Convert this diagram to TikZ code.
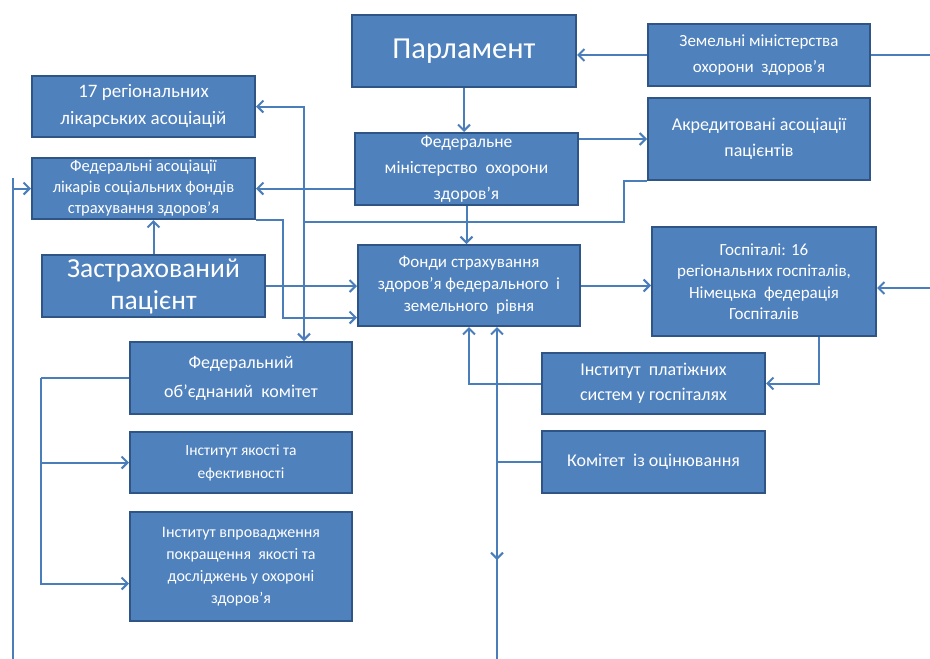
\documentclass[tikz,border=0pt]{standalone}
\usepackage{fontspec}
\setmainfont{Carlito}
\usetikzlibrary{arrows.meta,calc}
\definecolor{boxfill}{HTML}{4F81BD}
\definecolor{boxline}{HTML}{2F5486}
\definecolor{conn}{HTML}{4A7EBB}
\begin{document}
\begin{tikzpicture}[x=1pt,y=-1pt,
  box/.style={draw=boxline, fill=boxfill, line width=2pt, text=white, align=center, inner sep=1pt, anchor=center},
  arr/.style={draw=conn, line width=2pt, -{Straight Barb[length=6pt,width=12pt,line width=2pt]}},
  ln/.style={draw=conn, line width=2pt}]
\useasboundingbox (0,0) rectangle (930,659);
\fill[white] (0,0) rectangle (930,659);

\node[box, minimum width=224pt, minimum height=72pt, font=\fontsize{30.5}{34}\selectfont] (parl) at (464,51) {Парламент};
\node[box, minimum width=222pt, minimum height=62pt, font=\fontsize{17}{26}\selectfont] (zem) at (759,55) {Земельні міністерства\\охорони\ \ здоров’я};
\node[box, minimum width=223pt, minimum height=61pt, font=\fontsize{19}{27}\selectfont] (r17) at (143.5,106.5) {17 регіональних\\лікарських асоціацій};
\node[box, minimum width=223pt, minimum height=61pt, font=\fontsize{16.5}{21}\selectfont] (fedassoc) at (143.5,188.5) {Федеральні асоціації\\лікарів соціальних фондів\\страхування здоров’я};
\node[box, minimum width=223pt, minimum height=72pt, font=\fontsize{17.5}{26}\selectfont] (fedmin) at (466.5,169) {Федеральне\\міністерство\ \ охорони\\здоров’я};
\node[box, minimum width=222pt, minimum height=82pt, font=\fontsize{18}{26}\selectfont] (akr) at (759,139) {Акредитовані асоціації\\пацієнтів};
\node[box, minimum width=223pt, minimum height=62pt, font=\fontsize{27.5}{32}\selectfont] (zastr) at (153.5,286) {Застрахований\\пацієнт};
\node[box, minimum width=222pt, minimum height=81pt, font=\fontsize{17}{22}\selectfont] (fonds) at (469,285.5) {Фонди страхування\\здоров’я федерального\ \ і\\земельного\ \ рівня};
\node[box, minimum width=224pt, minimum height=109pt, font=\fontsize{17}{21.5}\selectfont] (hosp) at (764,281.5) {Госпіталі: 16\\регіональних госпіталів,\\Німецька\ \ федерація\\Госпіталів};
\node[box, minimum width=222pt, minimum height=72pt, font=\fontsize{18}{29}\selectfont] (fedcom) at (241,378) {Федеральний\\об’єднаний\ \ комітет};
\node[box, minimum width=223pt, minimum height=61pt, font=\fontsize{18}{25}\selectfont] (plat) at (653.5,383.5) {Інститут\ \ платіжних\\систем у госпіталях};
\node[box, minimum width=223pt, minimum height=62pt, font=\fontsize{18}{22}\selectfont] (komitet) at (653.5,462) {Комітет\ \ із оцінювання};
\node[box, minimum width=222pt, minimum height=61pt, font=\fontsize{15.5}{23}\selectfont] (yakist) at (241,462.5) {Інститут якості та\\ефективності};
\node[box, minimum width=222pt, minimum height=109pt, font=\fontsize{16}{22}\selectfont] (vprov) at (241,566.5) {Інститут впровадження\\покращення\ \ якості та\\досліджень у охороні\\здоров’я};

\draw[arr] (zem.west) -- (zem.west -| parl.east);
\coordinate (rz) at (930,55);
\draw[ln] (zem.east) -- (rz);
\draw[arr] (parl.south) -- (parl.south |- fedmin.north);
\draw[arr] (akr.west -| fedmin.east) -- (akr.west);
\draw[arr] (fedassoc.east -| fedmin.west) -- (fedassoc.east);
\draw[arr] (fedmin.south) -- (fedmin.south |- fonds.north);
\coordinate (j1) at (304,222);
\draw[ln] (akr.south west) -- ++(-23,0) |- (j1);
\draw[arr] (j1) |- (r17.east);
\draw[arr] (j1) -- (j1 |- fedcom.north);
\draw[arr] (fedassoc.south east) -- ++(27,0) |- ([yshift=-32pt]fonds.west);
\draw[arr] (zastr.east) -- (zastr.east -| fonds.west);
\draw[arr] (zastr.north) -- (zastr.north |- fedassoc.south);
\draw[arr] (fonds.east) -- (fonds.east -| hosp.west);
\coordinate (rh) at (930,288);
\draw[arr] (rh) -- (rh -| hosp.east);
\draw[arr] ([xshift=55pt]hosp.south) |- (plat.east);
\draw[arr] (plat.west) -| (fonds.south);
\coordinate (bot) at (497,659);
\draw[arr] (bot) -- (bot |- fonds.south);
\draw[ln] (komitet.west) -- (komitet.west -| bot);
\coordinate (md) at (497,560);
\draw[arr] (bot |- komitet.west) -- (md);
\draw[ln] (fedcom.west) -- ++(-88,0) coordinate (b1);
\draw[arr] (b1) |- (yakist.west);
\draw[arr] (b1) |- ([yshift=-17pt]vprov.west);
\coordinate (lt) at (13,178);
\coordinate (lb) at (13,659);
\draw[ln] (lt) -- (lb);
\draw[arr] (lt |- fedassoc.west) -- (fedassoc.west);
\end{tikzpicture}
\end{document}
